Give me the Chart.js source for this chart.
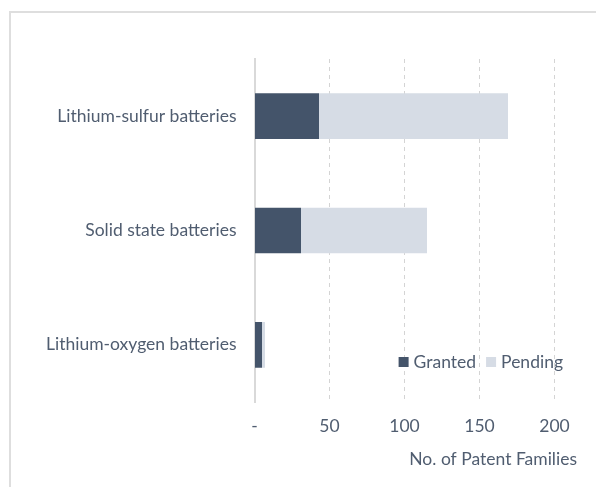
<!DOCTYPE html>
<html>
<head>
<meta charset="utf-8">
<script src="https://cdn.jsdelivr.net/npm/chart.js@4"></script>
<style>
  html, body { margin: 0; padding: 0; background: #fff; }
  #wrap { position: relative; width: 596px; height: 487px; }
  #frame { position: absolute; left: 9px; top: 11px; right: 0; bottom: 0;
           border-top: 2px solid #dedede; border-left: 2px solid #dedede; }
  canvas { position: absolute; left: 0; top: 0; }
</style>
</head>
<body>
<div id="wrap">
  <div id="frame"></div>
  <canvas id="patent-chart" width="596" height="487"></canvas>
</div>
<script>
// données
const categories = ['Lithium-sulfur batteries', 'Solid state batteries', 'Lithium-oxygen batteries'];
const granted = [43, 31, 5];
const pending = [126, 84, 2];
const xTicks = [0, 50, 100, 150, 200];

const textColor = '#505d70';
const fontFamily = 'Lato, "Open Sans", sans-serif';
const fontSize = 17.5;

// légende dessinée dans la zone du graphique
const insideLegend = {
    id: 'insideLegend',
    afterDraw(chart) {
        const { ctx, chartArea } = chart;
        ctx.save();
        ctx.font = fontSize + 'px ' + fontFamily;
        ctx.textBaseline = 'middle';
        const items = chart.data.datasets.map(d => ({ label: d.label, color: d.backgroundColor }));
        const box = 10, gap = 5, spacing = 10;
        let total = 0;
        items.forEach((it, i) => {
            total += box + gap + ctx.measureText(it.label).width + (i < items.length - 1 ? spacing : 0);
        });
        let x = chartArea.right - 14 - total;
        const y = chartArea.bottom - 41;
        items.forEach(it => {
            ctx.fillStyle = it.color;
            ctx.fillRect(x, y - box / 2 + 1, box, box);
            x += box + gap;
            ctx.fillStyle = textColor;
            ctx.fillText(it.label, x, y + 1);
            x += ctx.measureText(it.label).width + spacing;
        });
        ctx.restore();
    }
};

const ctx = document.getElementById('patent-chart').getContext('2d');
const patentChart = new Chart(ctx, {
    type: 'bar',
    data: {
        labels: categories,
        datasets: [{
            label: 'Granted',
            data: granted,
            backgroundColor: '#44546a',
            borderWidth: 0
        }, {
            label: 'Pending',
            data: pending,
            backgroundColor: '#d6dce5',
            borderWidth: 0
        }]
    },
    options: {
        indexAxis: 'y',
        responsive: false,
        animation: false,
        layout: { padding: { top: 59, right: 19, left: 0, bottom: 0 } },
        plugins: {
            legend: { display: false },
            tooltip: { enabled: false }
        },
        datasets: {
            bar: { categoryPercentage: 1, barPercentage: 0.4 }
        },
        scales: {
            x: {
                stacked: true,
                min: 0,
                max: 215,
                afterFit: s => { s.height = 85; },
                afterBuildTicks: s => { s.ticks = xTicks.map(v => ({ value: v })); },
                ticks: {
                    includeBounds: false,
                    padding: 14,
                    color: textColor,
                    font: { size: fontSize, family: fontFamily },
                    callback: v => v === 0 ? '-' : v
                },
                grid: {
                    drawTicks: false,
                    color: c => c.tick && c.tick.value === 0 ? 'rgba(0,0,0,0)' : '#d4d4d4',
                    lineWidth: 1
                },
                border: { display: false, dash: [4, 4] },
                title: {
                    display: true,
                    text: 'No. of Patent Families',
                    align: 'end',
                    color: textColor,
                    font: { size: fontSize, family: fontFamily },
                    padding: { top: 0, bottom: 17 }
                }
            },
            y: {
                stacked: true,
                afterFit: s => { s.width = 254.5; },
                ticks: {
                    padding: 18,
                    color: textColor,
                    font: { size: fontSize, family: fontFamily }
                },
                grid: { display: false, drawTicks: false },
                border: { display: true, color: '#d9d9d9', width: 2 }
            }
        }
    },
    plugins: [insideLegend]
});
</script>
</body>
</html>
